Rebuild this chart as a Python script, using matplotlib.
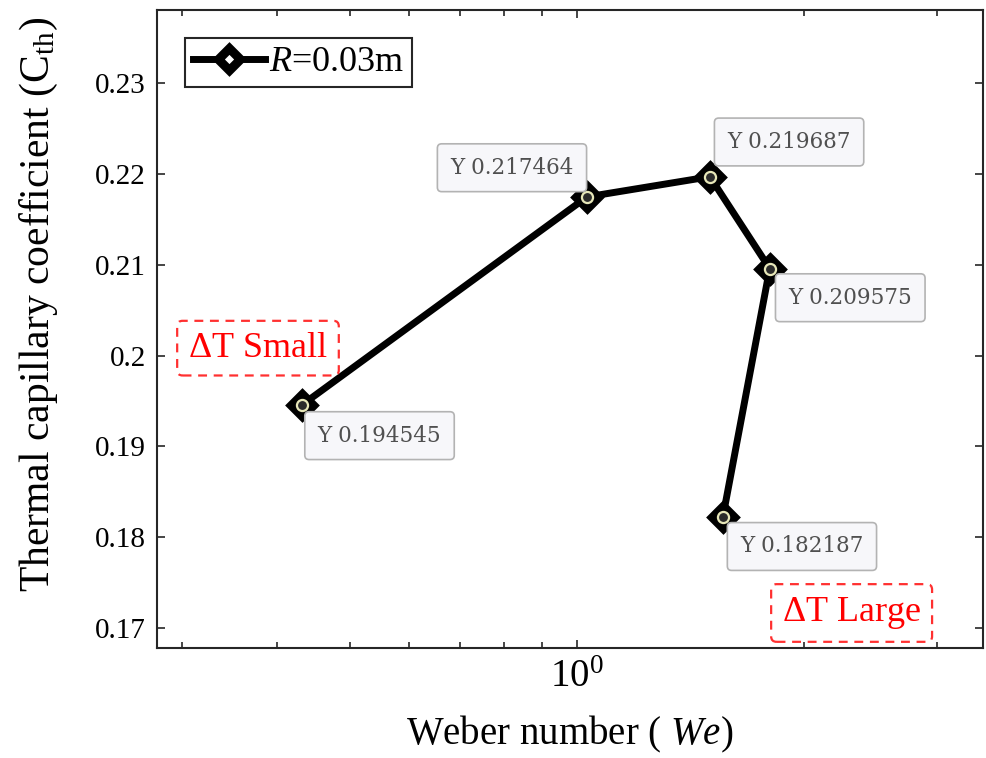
import numpy as np
import matplotlib
matplotlib.use("Agg")
import matplotlib.pyplot as plt
from matplotlib.ticker import FixedLocator, NullFormatter

plt.rcParams["font.family"] = ["Liberation Serif", "DejaVu Serif"]
plt.rcParams["mathtext.fontset"] = "custom"
plt.rcParams["mathtext.rm"] = "Liberation Serif"
plt.rcParams["mathtext.it"] = "Liberation Serif:italic"

# Weber number vs thermal capillary coefficient, R = 0.03 m
we = [0.432, 1.031, 1.50, 1.80, 1.56]
cth = [0.194545, 0.217464, 0.219687, 0.209575, 0.182187]

# datatip offsets in points (dx, dy)
tip_offsets = [(56, -22), (-54, 21), (57, 25), (58, -21), (57, -21)]

yticks = [0.17, 0.18, 0.19, 0.2, 0.21, 0.22, 0.23]
ytick_labels = ["0.17", "0.18", "0.19", "0.2", "0.21", "0.22", "0.23"]
xminor = [0.3, 0.4, 0.5, 0.6, 0.7, 0.8, 0.9, 2, 3]

fig = plt.figure(figsize=(9.86, 7.58), dpi=100)
ax = fig.add_axes([0.1592, 0.1451, 0.8377, 0.8417])

ax.plot(we, cth, "-", color="black", lw=5, marker="D", ms=11.5,
        mfc="white", mec="black", mew=6.5, label=r"$R$=0.03m", zorder=3)

# datatip dots and boxes
ax.plot(we, cth, "o", ms=8, mfc="#2b2b2b", mec="#e6e6b8", mew=1.6, zorder=4)
for x, y, (dx, dy) in zip(we, cth, tip_offsets):
    ax.annotate("Y %.6f" % y, xy=(x, y), xytext=(dx, dy),
                textcoords="offset points", ha="center", va="center",
                fontsize=15.5, family="DejaVu Serif", color="#505050",
                bbox=dict(boxstyle="round,pad=0.6,rounding_size=0.2",
                          fc="#f7f7fa", ec="#b3b3b3", lw=1.2),
                zorder=5)

ax.set_xscale("log")
ax.set_xlim(0.2778, 3.449)
ax.set_ylim(0.1678, 0.23804)

ax.xaxis.set_major_locator(FixedLocator([1]))
ax.xaxis.set_minor_locator(FixedLocator(xminor))
ax.xaxis.set_minor_formatter(NullFormatter())
ax.set_xticks([1])
ax.set_xticklabels([r"$10^0$"], fontsize=28)
ax.set_yticks(yticks)
ax.set_yticklabels(ytick_labels, fontsize=21)

ax.tick_params(which="both", direction="in", top=True, right=True,
               color="#262626", width=1.2)
ax.tick_params(which="major", length=6, pad=8)
ax.tick_params(which="minor", length=4)
for s in ax.spines.values():
    s.set_color("#262626")
    s.set_linewidth(1.5)

ax.set_xlabel(r"Weber number ( $We$)", fontsize=28, labelpad=13)
ax.set_ylabel(r"Thermal capillary coefficient (C$_{\rm th}$)", fontsize=30)
ax.yaxis.set_label_coords(-0.118, 0.538)

# red dashed region labels
red_box = dict(boxstyle="round,pad=0.3,rounding_size=0.15", fc="none",
               ec="#ff3030", lw=1.6, ls=(0, (4, 3)))
ax.text(0.1223, 0.470, r"$\Delta$T Small", transform=ax.transAxes,
        fontsize=26, color="red", ha="center", va="center", bbox=red_box)
ax.text(0.841, 0.0549, r"$\Delta$T Large", transform=ax.transAxes,
        fontsize=26, color="red", ha="center", va="center", bbox=red_box)

leg = ax.legend(loc="upper left", bbox_to_anchor=(0.034, 0.956),
                borderaxespad=0, fontsize=26, fancybox=False,
                handlelength=2.0, handletextpad=0.1, borderpad=0.22,
                framealpha=1)
leg.get_frame().set_edgecolor("#262626")
leg.get_frame().set_linewidth(1.5)

fig.savefig("out.png", dpi=100)
